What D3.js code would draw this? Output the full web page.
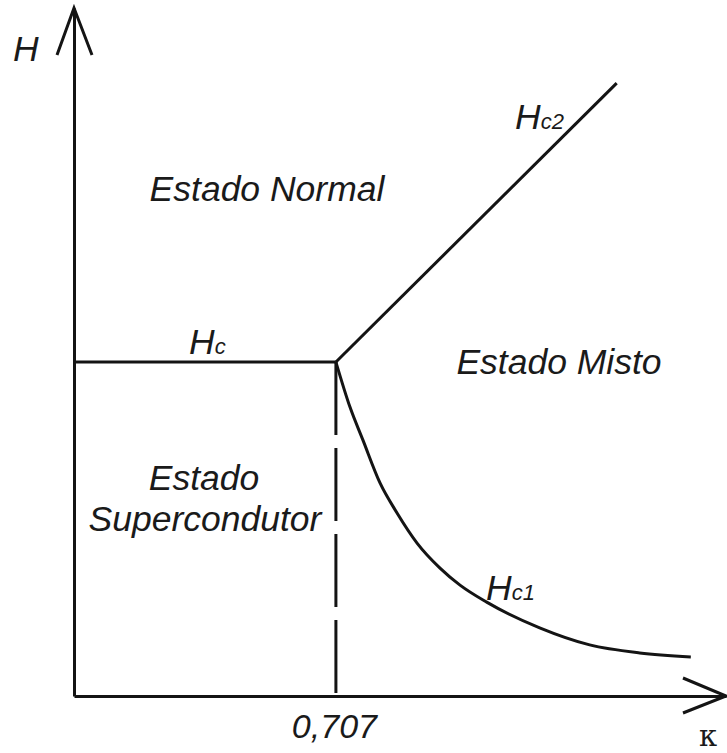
<!DOCTYPE html>
<html>
<head>
<meta charset="utf-8">
<script src="https://cdn.jsdelivr.net/npm/d3@7"></script>
<style>
  body { margin: 0; background: #fff; }
  svg text { font-family: "Liberation Sans", Arial, sans-serif; font-style: italic; fill: #1a1a1a; }
</style>
</head>
<body>
<div id="chart"></div>
<script>
// phase diagram H vs kappa
var kappaTicks = [0.707];
var tickLabels = ["0,707"];

// Hc (flat) line
var hcKappa = [0, 0.707];
var hcValues = [1.0, 1.0];

// Hc2 (straight rising line)
var hc2Kappa = [0.707, 1.465];
var hc2Values = [1.0, 1.835];

// Hc1 (decaying curve)
var hc1Kappa = [0.707, 0.745, 0.78, 0.826, 0.872, 0.926, 0.988, 1.042, 1.114, 1.257, 1.392, 1.527, 1.665];
var hc1Values = [1.0, 0.865, 0.766, 0.638, 0.548, 0.458, 0.383, 0.332, 0.281, 0.204, 0.153, 0.129, 0.117];

var regionLabels = ["Estado Normal", "Estado Misto", "Estado", "Supercondutor"];
var curveNames = ["Hc", "Hc2", "Hc1"];

var svgWidth = 727;
var svgHeight = 753;
var ink = "#141414";
var fs = 35.5;

var svg = d3.select("#chart").append("svg")
  .attr("width", svgWidth)
  .attr("height", svgHeight);

// scales
var x = d3.scaleLinear().domain([0, 1.76]).range([74, 726]);
var y = d3.scaleLinear().domain([0, 2.06]).range([696, 8]);

// axes (no ticks, only the lines plus the 0,707 label)
var xAxis = d3.axisBottom(x)
  .tickValues(kappaTicks)
  .tickSize(0)
  .tickSizeOuter(0)
  .tickPadding(15)
  .tickFormat(function(d, i) { return tickLabels[i]; });

var yAxis = d3.axisLeft(y).tickValues([]).tickSizeOuter(0);

var gx = svg.append("g").attr("transform", "translate(0," + y(0) + ")").call(xAxis);
var gy = svg.append("g").attr("transform", "translate(" + x(0) + ",0)").call(yAxis);

[gx, gy].forEach(function(g) {
  g.select(".domain").attr("stroke", ink).attr("stroke-width", 3);
});
gx.selectAll(".tick text")
  .attr("font-family", "Liberation Sans, Arial, sans-serif")
  .attr("font-style", "italic")
  .attr("font-size", 34)
  .attr("fill", "#1a1a1a")
  .attr("x", -2)
  .attr("dy", "0.8em");

// open arrow heads
svg.append("path")
  .attr("d", d3.line()([[x(0) - 17, y.range()[1] + 47], [x(0), y.range()[1]], [x(0) + 18, y.range()[1] + 47]]))
  .attr("fill", "none").attr("stroke", ink).attr("stroke-width", 3);
svg.append("path")
  .attr("d", d3.line()([[x.range()[1] - 43, y(0) - 18], [x.range()[1], y(0)], [x.range()[1] - 43, y(0) + 17]]))
  .attr("fill", "none").attr("stroke", ink).attr("stroke-width", 3);

var line = d3.line()
  .x(function(d) { return x(d[0]); })
  .y(function(d) { return y(d[1]); });

// dashed vertical at kappa = 0.707
svg.append("path")
  .attr("d", line([[kappaTicks[0], hcValues[1]], [kappaTicks[0], 0]]))
  .attr("stroke", ink).attr("stroke-width", 3)
  .attr("stroke-dasharray", "73,13");

svg.append("path")
  .attr("d", line(d3.zip(hcKappa, hcValues)))
  .attr("fill", "none").attr("stroke", ink).attr("stroke-width", 3);

svg.append("path")
  .attr("d", line(d3.zip(hc2Kappa, hc2Values)))
  .attr("fill", "none").attr("stroke", ink).attr("stroke-width", 3);

svg.append("path")
  .attr("d", line.curve(d3.curveMonotoneX)(d3.zip(hc1Kappa, hc1Values)))
  .attr("fill", "none").attr("stroke", ink).attr("stroke-width", 3);

// region labels
svg.append("text").attr("x", 267).attr("y", 201).attr("text-anchor", "middle")
  .attr("font-size", fs).text(regionLabels[0]);
svg.append("text").attr("x", 559).attr("y", 374).attr("text-anchor", "middle")
  .attr("font-size", fs).text(regionLabels[1]);

// two-line label
var sc = svg.append("text").attr("text-anchor", "middle").attr("font-size", fs);
sc.append("tspan").attr("x", 204).attr("y", 490).text(regionLabels[2]);
sc.append("tspan").attr("x", 205).attr("y", 531).text(regionLabels[3]);

// curve labels: H with subscript
function curveLabel(name, px, py) {
  var t = svg.append("text").attr("x", px).attr("y", py).attr("font-size", fs);
  t.append("tspan").text(name[0]);
  t.append("tspan").attr("font-size", 22).text(name.slice(1));
}
curveLabel(curveNames[0], 189, 354);
curveLabel(curveNames[1], 515, 129);
curveLabel(curveNames[2], 486, 600);

// axis names
svg.append("text").attr("x", 13).attr("y", 61).attr("font-size", fs).text("H");
svg.append("text").attr("x", 699).attr("y", 746)
  .style("font-family", "'DejaVu Serif', 'Liberation Serif', serif")
  .style("font-style", "normal")
  .attr("font-size", 29).text("κ");
</script>
</body>
</html>
